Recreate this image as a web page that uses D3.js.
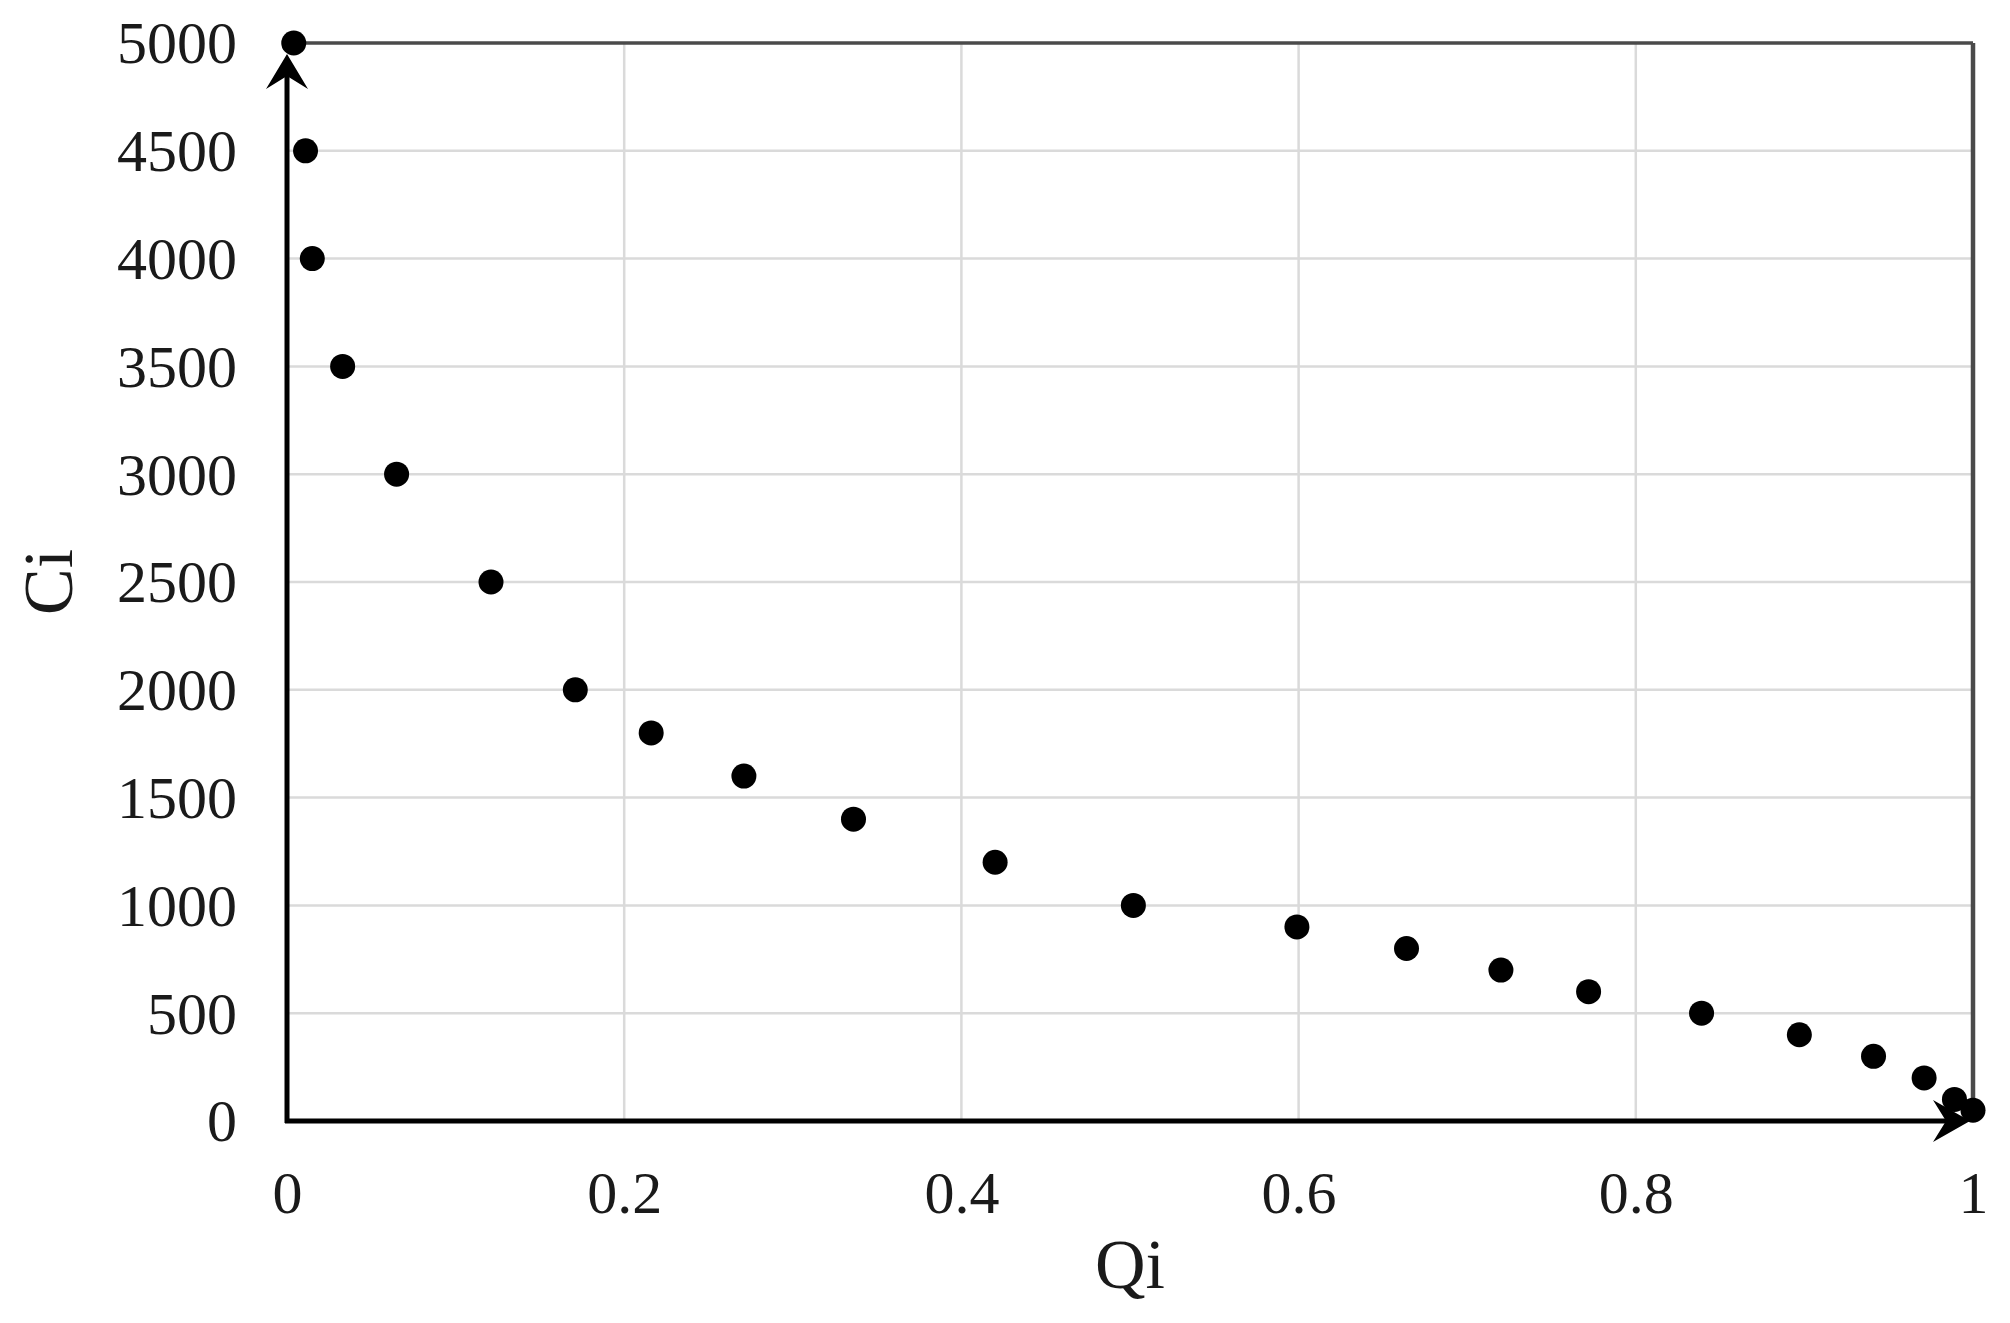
<!DOCTYPE html>
<html>
<head>
<meta charset="utf-8">
<script src="https://cdn.jsdelivr.net/npm/d3@7"></script>
<style>
  html, body { margin: 0; padding: 0; background: #fff; }
  svg { display: block; }
</style>
</head>
<body>
<svg id="chart" width="2010" height="1323"></svg>
<script>
// Data
const qi = [0.004, 0.011, 0.015, 0.033, 0.065, 0.121, 0.171, 0.216, 0.271, 0.336, 0.420, 0.502, 0.599, 0.664, 0.720, 0.772, 0.839, 0.897, 0.941, 0.971, 0.989, 1.0];
const ci = [5000, 4500, 4000, 3500, 3000, 2500, 2000, 1800, 1600, 1400, 1200, 1000, 900, 800, 700, 600, 500, 400, 300, 200, 100, 50];
const xTicks = [0, 0.2, 0.4, 0.6, 0.8, 1];
const yTicks = [0, 500, 1000, 1500, 2000, 2500, 3000, 3500, 4000, 4500, 5000];
const xLabel = "Qi";
const yLabel = "Ci";

(function () {
const svg = d3.select("#chart");
const pLeft = 287, pRight = 1973, pTop = 43, pBottom = 1121;

const x = d3.scaleLinear().domain([0, 1]).range([pLeft, pRight]);
const y = d3.scaleLinear().domain([0, 5000]).range([pBottom, pTop]);

const FONT = "'Liberation Serif', 'Times New Roman', serif";

// Gridlines
const grid = svg.append("g");
grid.selectAll("line.h").data(yTicks.filter(d => d > 0 && d < 5000)).join("line")
  .attr("class", "h")
  .attr("x1", pLeft).attr("x2", pRight)
  .attr("y1", d => y(d)).attr("y2", d => y(d))
  .attr("stroke", "#dadada").attr("stroke-width", 2.5);
grid.selectAll("line.v").data(xTicks.filter(d => d > 0 && d < 1)).join("line")
  .attr("class", "v")
  .attr("x1", d => x(d)).attr("x2", d => x(d))
  .attr("y1", pTop).attr("y2", pBottom)
  .attr("stroke", "#dadada").attr("stroke-width", 2.5);

// Top and right borders
svg.append("line").attr("x1", pLeft).attr("x2", pRight).attr("y1", pTop).attr("y2", pTop)
  .attr("stroke", "#4a4a4a").attr("stroke-width", 3.5);
svg.append("line").attr("x1", pRight).attr("x2", pRight).attr("y1", pTop).attr("y2", pBottom)
  .attr("stroke", "#4a4a4a").attr("stroke-width", 4.5);

// Axes via d3
const yAxis = d3.axisLeft(y).tickValues(yTicks).tickSize(0).tickPadding(50).tickFormat(d3.format("d"));
const gy = svg.append("g").attr("transform", `translate(${pLeft},0)`).call(yAxis);
gy.select(".domain").remove();
gy.selectAll("text").attr("font-family", FONT).attr("font-size", 60).attr("fill", "#1a1a1a").attr("dy", "0.33em");

const xAxis = d3.axisBottom(x).tickValues(xTicks).tickSize(0).tickPadding(0)
  .tickFormat(d => (d === 0 || d === 1) ? String(d) : d3.format(".1f")(d));
const gx = svg.append("g").attr("transform", `translate(0,${pBottom})`).call(xAxis);
gx.select(".domain").remove();
gx.selectAll("text").attr("font-family", FONT).attr("font-size", 60).attr("fill", "#1a1a1a").attr("dy", null).attr("y", 92);

// Axis lines with arrows
const axisColor = "#000";
svg.append("line").attr("x1", x(0)).attr("x2", x(0)).attr("y1", pBottom + 2).attr("y2", y(5000) + 16)
  .attr("stroke", axisColor).attr("stroke-width", 5);
svg.append("line").attr("x1", x(0) - 2).attr("x2", x(1) - 14).attr("y1", pBottom).attr("y2", pBottom)
  .attr("stroke", axisColor).attr("stroke-width", 5);

// Arrowheads (stealth)
const ax = x(0), ayTip = y(5000) + 11;
svg.append("path")
  .attr("d", `M${ax},${ayTip} L${ax + 21},${ayTip + 35} L${ax},${ayTip + 22} L${ax - 21},${ayTip + 35} Z`)
  .attr("fill", axisColor);
const bxTip = x(1) - 3, by = pBottom;
svg.append("path")
  .attr("d", `M${bxTip},${by} L${bxTip - 37},${by - 21} L${bxTip - 24},${by} L${bxTip - 37},${by + 21} Z`)
  .attr("fill", axisColor);

// Points
svg.append("g").selectAll("circle").data(qi.map((q, i) => ({ q, c: ci[i] }))).join("circle")
  .attr("cx", d => x(d.q)).attr("cy", d => y(d.c)).attr("r", 12.5).attr("fill", "#000");

// Axis titles
svg.append("text").attr("x", (pLeft + pRight) / 2).attr("y", 1288)
  .attr("text-anchor", "middle").attr("font-family", FONT).attr("font-size", 70).attr("fill", "#1a1a1a")
  .text(xLabel);
svg.append("text").attr("transform", `translate(72,${(pTop + pBottom) / 2}) rotate(-90)`)
  .attr("text-anchor", "middle").attr("font-family", FONT).attr("font-size", 70).attr("fill", "#1a1a1a")
  .text(yLabel);
})();
</script>
</body>
</html>
